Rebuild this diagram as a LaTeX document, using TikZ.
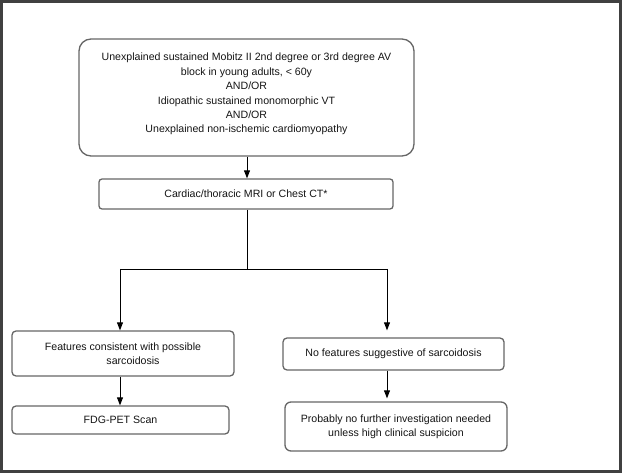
\documentclass[tikz,border=0pt]{standalone}
\usepackage{fontspec}
\setmainfont{Liberation Sans}
\usetikzlibrary{arrows.meta}
\begin{document}
\begin{tikzpicture}[x=1pt,y=-1pt,
  box/.style={draw=black!60, line width=1.3pt, align=center, inner sep=2pt,
    font=\fontsize{10.6}{14.4}\selectfont, text=black!92},
  conn/.style={draw=black, line width=0.9pt},
  arr/.style={conn, -{Triangle[length=8pt,width=6pt]}}]
\useasboundingbox (0,0) rectangle (622,473);
\draw[draw=black!75, line width=2.6pt] (1.3,1.3) rectangle (620.7,471.7);

\node[box, rounded corners=12pt, minimum width=335pt, minimum height=117pt] (top) at (246.5,97.5)
  {Unexplained sustained Mobitz II 2nd degree or 3rd degree AV\\
   block in young adults, < 60y\\ AND/OR\\ Idiopathic sustained monomorphic VT\\
   AND/OR\\ Unexplained non-ischemic cardiomyopathy\rule[-9pt]{0pt}{9pt}};
\node[box, rounded corners=3pt, minimum width=294pt, minimum height=30pt] (mri) at (246,194)
  {Cardiac/thoracic MRI or Chest CT*};
\node[box, rounded corners=4pt, minimum width=222pt, minimum height=45pt] (pos) at (123,353.5)
  {Features consistent with possible\\ \hspace*{20pt}sarcoidosis};
\node[box, rounded corners=4pt, minimum width=221pt, minimum height=32pt] (neg) at (393.5,354)
  {No features suggestive of sarcoidosis};
\node[box, rounded corners=4pt, minimum width=217pt, minimum height=28pt] (pet) at (120.5,420)
  {FDG-PET Scan};
\node[box, rounded corners=6pt, minimum width=222pt, minimum height=49pt] (none) at (396,426.5)
  {Probably no further investigation needed\\ unless high clinical suspicion};

\coordinate (split) at (247,269);
\coordinate (lx) at (120,269);
\coordinate (rx) at (387,269);

\draw[arr] (top.south -| split) -- (mri.north -| split);
\draw[conn] (mri.south -| split) -- (split);
\draw[conn] (lx) -- (rx);
\draw[arr] (lx) -- (pos.north -| lx);
\draw[arr, shorten >=7pt] (rx) -- (neg.north -| rx);
\draw[arr] (pos.south -| lx) -- (pet.north -| lx);
\draw[arr, shorten >=3pt] (neg.south -| rx) -- (none.north -| rx);
\end{tikzpicture}
\end{document}
